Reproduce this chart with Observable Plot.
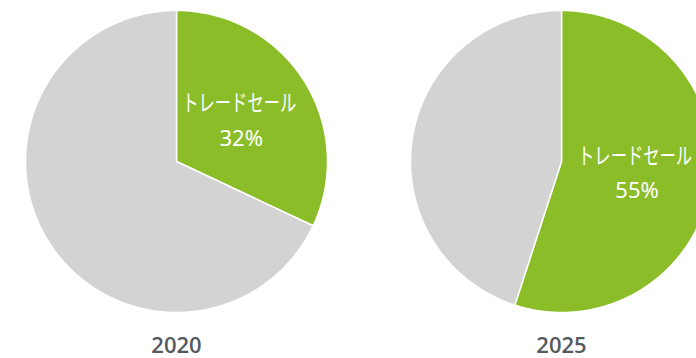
<!DOCTYPE html>
<html><head><meta charset="utf-8">
<script src="https://cdn.jsdelivr.net/npm/d3@7"></script>
<script src="https://cdn.jsdelivr.net/npm/@observablehq/plot@0.6"></script>
<style>body{margin:0;background:#fff}</style>
</head><body><div id="chart"></div>
<script>
const years = ["2020", "2025"];
const tradeShare = [32, 55];
const sliceLabel = "トレードセール";
const sliceNames = ["trade", "other"];
const colors = {trade: "#8bbd29", other: "#d3d3d3"};

const W = 696, H = 358;
const centers = [[176, 161], [561, 161]];
const R = 151;

const polys = [], labels = [], yearLabels = [];
years.forEach((yr, i) => {
  const [cx, cy] = centers[i];
  const vals = [tradeShare[i], 100 - tradeShare[i]];
  const pie = d3.pie().sort(null).value(d => d)(vals);
  pie.forEach((p, j) => {
    const key = yr + "-" + sliceNames[j];
    polys.push({key, name: sliceNames[j], x: cx, y: cy});
    const n = Math.max(2, Math.ceil((p.endAngle - p.startAngle) / 0.01));
    for (let k = 0; k <= n; k++) {
      const a = p.startAngle + (p.endAngle - p.startAngle) * k / n;
      polys.push({key, name: sliceNames[j], x: cx + R * Math.sin(a), y: cy - R * Math.cos(a)});
    }
    polys.push({key, name: sliceNames[j], x: cx, y: cy});
    if (j === 0) {
      const m = (p.startAngle + p.endAngle) / 2;
      labels.push({x: cx + 0.5 * R * Math.sin(m), y: cy - 0.5 * R * Math.cos(m), name: sliceLabel, pct: tradeShare[i] + "%"});
    }
  });
  yearLabels.push({x: cx, y: cy + R + 24 + 9, text: yr});
});

const chart = Plot.plot({
  width: W, height: H,
  margin: 0,
  x: {domain: [0, W], range: [0, W], axis: null},
  y: {domain: [0, H], range: [0, H], axis: null},
  marks: [
    Plot.line(polys, {x: "x", y: "y", z: "key", fill: d => colors[d.name], stroke: "#fff", strokeWidth: 1.5, strokeLinejoin: "round", curve: "linear"}),
    Plot.text(labels, {x: "x", y: "y", text: "name", dy: -17, dx: -1, fill: "#fff", fontSize: 23, fontFamily: "Noto Sans CJK JP", className: "slice-name"}),
    Plot.text(labels, {x: "x", y: "y", text: "pct", dy: 18, dx: 1, fill: "#fff", fontSize: 22, fontFamily: "Noto Sans", className: "slice-pct"}),
    Plot.text(yearLabels, {x: "x", y: "y", text: "text", fill: "#555a5e", fontSize: 22, fontWeight: 600, fontFamily: "Open Sans"})
  ]
});
d3.select(chart).selectAll(".slice-name text").attr("textLength", 114).attr("lengthAdjust", "spacingAndGlyphs");
document.getElementById("chart").append(chart);
</script>
</body></html>
